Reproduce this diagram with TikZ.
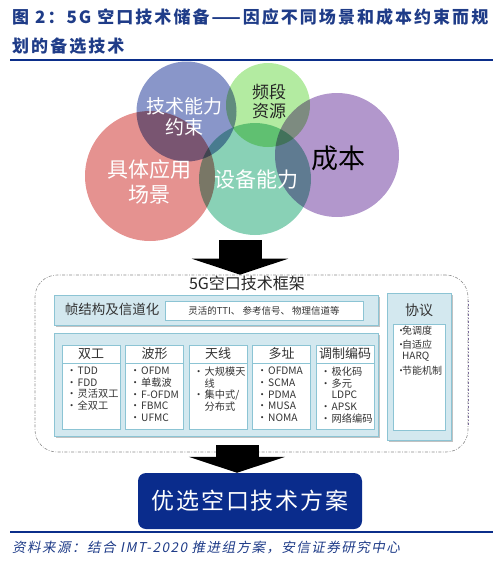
\documentclass[tikz,border=0pt]{standalone}
\usepackage{fontspec}
\setmainfont{Noto Sans CJK SC}
\newfontfamily\titlefont[LetterSpace=12]{Noto Sans CJK SC}
\newfontfamily\srcfont[FakeSlant=0.2,LetterSpace=11]{Noto Sans CJK SC}
\newfontfamily\boxfont[LetterSpace=8]{Noto Sans CJK SC}
\usetikzlibrary{
  arrows.meta,
  positioning,
  shadows,
  calc
}
\definecolor{titleblue}{HTML}{1F3C88}
\definecolor{ruleblue}{HTML}{0B2E8A}
\definecolor{finalblue}{HTML}{0A2C8C}
\definecolor{panelfill}{HTML}{D3E8EF}
\definecolor{panelline}{HTML}{8CC4D4}
\definecolor{vblue}{HTML}{7484C0}
\definecolor{vgreen}{HTML}{A6E890}
\definecolor{vred}{HTML}{E07F7D}
\definecolor{vteal}{HTML}{74C9A9}
\definecolor{vpurple}{HTML}{A585C3}
\definecolor{protopurple}{HTML}{7A6A9A}
\newcommand{\bul}{\makebox[11pt][l]{•}}
\newcommand{\ind}{\hspace*{11pt}}
\tikzset{
  titletext/.style = {anchor=west, inner sep=0pt, text=titleblue,
                      font=\titlefont\bfseries\fontsize{17}{20}\selectfont},
  rule/.style      = {draw=ruleblue, line width=2pt},
  venn/.style      = {circle, inner sep=0pt, draw=none, fill opacity=0.85},
  venntext/.style  = {align=center, inner sep=0pt, text=white},
  frame/.style     = {draw=black!45, line width=0.6pt, rounded corners=22pt,
                      dash pattern=on 3pt off 1.5pt on 0.8pt off 1.5pt},
  protodot/.style  = {draw=protopurple, line width=1.4pt, dotted},
  panel/.style     = {draw=panelline, fill=panelfill, line width=0.8pt,
                      inner sep=0pt,
                      drop shadow={shadow xshift=1.5pt, shadow yshift=-1.5pt,
                                   fill=black!40, opacity=0.6}},
  cell/.style      = {draw=panelline, fill=white, line width=0.6pt,
                      inner sep=0pt},
  head/.style      = {font=\fontsize{13}{15}\selectfont, text=black!80},
  items/.style     = {align=left, inner sep=0pt, anchor=north west,
                      font=\fontsize{10.2}{11.6}\selectfont, text=black!80},
  blockarrow/.style= {draw=black, line width=43pt,
                      -{Triangle[width=96pt, length=16pt]}},
  final/.style     = {fill=finalblue, rounded corners=8pt, text=white,
                      inner sep=0pt, font=\boxfont\fontsize{23}{26}\selectfont},
  source/.style    = {anchor=west, inner sep=0pt, text=titleblue,
                      font=\srcfont\fontsize{13.5}{16}\selectfont},
}

\begin{document}
\begin{tikzpicture}[x=1pt, y=-1pt]
\useasboundingbox (0,0) rectangle (501,568);

% title and rule
\node[titletext] (title1) at (12,17) {图 2：5G 空口技术储备——因应不同场景和成本约束而规};
\node[titletext] (title2) at (12,46) {划的备选技术};
\coordinate (rulea) at (10,60);
\coordinate (ruleb) at (493,60);
\draw[rule] (rulea) -- (ruleb);

% constraint circles
\begin{scope}[blend group=multiply]
  \node[venn, fill=vblue,   minimum size=100pt] (tech)   at (186.5,111.5) {};
  \node[venn, fill=vgreen,  minimum size=84pt]  (band)   at (268,105) {};
  \node[venn, fill=vpurple, minimum size=124pt] (cost)   at (337,155) {};
  \node[venn, fill=vred,    minimum size=130pt] (usage)  at (150,176) {};
  \node[venn, fill=vteal,   minimum size=112pt] (device) at (255,179) {};
\end{scope}
\node[venntext, font=\fontsize{19}{21}\selectfont] (techtxt) at (184,117) {技术能力\\约束};
\node[venntext, text=black!85, font=\fontsize{17}{19}\selectfont] (bandtxt) at (269,102) {频段\\资源};
\node[venntext, font=\fontsize{21}{25}\selectfont] (usagetxt) at (149,182) {具体应用\\场景};
\node[venntext, font=\fontsize{21}{25}\selectfont] (devicetxt) at (256,180) {设备能力};
\node[venntext, text=black, font=\fontsize{27}{30}\selectfont] (costtxt) at (338,158) {成本};

% framework
\node[frame, minimum width=433pt, minimum height=177pt] (frame) at (251.5,363.5) {};
\draw[protodot] ([yshift=-26pt]frame.north east) -- ([yshift=26pt]frame.south east);
\node[font=\fontsize{16}{18}\selectfont, text=black!85] (fwtitle) at (247,283) {5G空口技术框架};

\node[panel, minimum width=324pt, minimum height=30pt] (fsbox) at (216.5,310) {};
\node[font=\fontsize{13.5}{16}\selectfont, text=black!80] (fslabel) at (112,309) {帧结构及信道化};
\node[cell, minimum width=198pt, minimum height=19pt,
      font=\fontsize{9.5}{11}\selectfont, text=black!80] (fsitems) at (264,310.5)
      {灵活的TTI、 参考信号、 物理信道等};

\node[panel, minimum width=324pt, minimum height=103pt] (techbox) at (216.5,384.5) {};

% columns
\node[cell, head, minimum width=58pt, minimum height=18pt] (duplex) at (91,354) {双工};
\node[cell, minimum width=58pt, minimum height=66pt, anchor=north] (duplexbody) at (duplex.south) {};
\node[items] (duplexitems) at (66.5,367) {\bul TDD\\ \bul FDD\\ \bul 灵活双工\\ \bul 全双工};

\node[cell, head, minimum width=58pt, minimum height=18pt] (wave) at (154.5,354) {波形};
\node[cell, minimum width=58pt, minimum height=66pt, anchor=north] (wavebody) at (wave.south) {};
\node[items] (waveitems) at (130,367) {\bul OFDM\\ \bul 单载波\\ \bul F-OFDM\\ \bul FBMC\\ \bul UFMC};

\node[cell, head, minimum width=58pt, minimum height=18pt] (antenna) at (218,354) {天线};
\node[cell, minimum width=58pt, minimum height=66pt, anchor=north] (antennabody) at (antenna.south) {};
\node[items] (antennaitems) at (193.5,367) {\bul 大规模天\\ \ind 线\\ \bul 集中式/\\ \ind 分布式};

\node[cell, head, minimum width=58pt, minimum height=18pt] (access) at (281.5,354) {多址};
\node[cell, minimum width=58pt, minimum height=66pt, anchor=north] (accessbody) at (access.south) {};
\node[items] (accessitems) at (257,367) {\bul OFDMA\\ \bul SCMA\\ \bul PDMA\\ \bul MUSA\\ \bul NOMA};

\node[cell, head, minimum width=58pt, minimum height=18pt] (coding) at (345,354) {调制编码};
\node[cell, minimum width=58pt, minimum height=66pt, anchor=north] (codingbody) at (coding.south) {};
\node[items] (codingitems) at (320.5,367) {\bul 极化码\\ \bul 多元\\ \ind LDPC\\ \bul APSK\\ \bul 网络编码};

% protocol
\node[panel, minimum width=64pt, minimum height=147pt] (proto) at (419,366.5) {};
\node[font=\fontsize{14}{16}\selectfont, text=black!80] (prototitle) at (419,310) {协议};
\node[cell, minimum width=52pt, minimum height=106pt] (protobody) at (419,377) {};
\node[items, font=\fontsize{10}{11}\selectfont] (protoitems) at (396,326)
  {\makebox[6pt][l]{•}免调度\\[3pt] \makebox[6pt][l]{•}自适应\\ \hspace*{6pt}HARQ\\[4pt] \makebox[6pt][l]{•}节能机制};

% result
\node[final, minimum width=224pt, minimum height=56pt] (result) at (250,501) {优选空口技术方案};

% block arrows
\coordinate (arrowtop) at (240,240);
\coordinate (arrowbot) at (237,445);
\draw[blockarrow] (arrowtop) -- (arrowtop |- frame.north);
\draw[blockarrow] (arrowbot) -- (arrowbot |- result.north);

% source
\coordinate (rulec) at (10,532);
\coordinate (ruled) at (493,532);
\draw[rule] (rulec) -- (ruled);
\node[source] (src) at (12,547) {资料来源：结合 IMT-2020 推进组方案，安信证券研究中心};
\end{tikzpicture}
\end{document}
